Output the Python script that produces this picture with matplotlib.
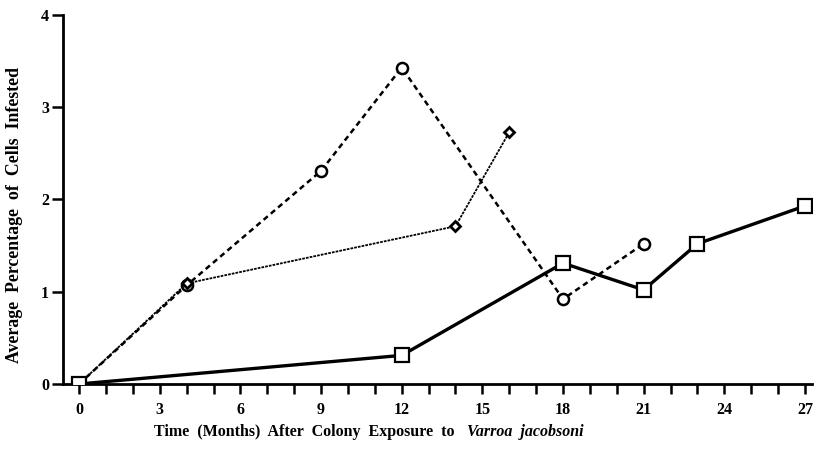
import matplotlib.pyplot as plt

plt.rcParams["font.family"] = ["Liberation Serif", "DejaVu Serif"]

# 数据
sq_months = [0, 12, 18, 21, 23, 27]
sq_values = [0, 0.31, 1.31, 1.02, 1.52, 1.93]

circ_months = [0, 4, 9, 12, 18, 21]
circ_values = [0, 1.07, 2.31, 3.43, 0.92, 1.52]

dia_months = [0, 4, 14, 16]
dia_values = [0, 1.09, 1.71, 2.73]

xtick_pos = list(range(0, 28))
xtick_labels = [str(m) if m % 3 == 0 else "" for m in xtick_pos]
ytick_pos = [0, 1, 2, 3, 4]

fig = plt.figure(figsize=(8.19, 4.49), dpi=100)
ax = fig.add_axes([0.0769, 0.1448, 0.9145, 0.8218])

# 细线（菱形）
ax.plot(dia_months, dia_values, color="black", lw=1.3, ls=(0, (1.5, 0.6)),
        marker="D", ms=5.5, mfc="white", mec="black", mew=2, zorder=3)
# 虚线（圆形）
ax.plot(circ_months, circ_values, color="black", lw=1.8, ls=(0, (2.2, 1.6)),
        marker="o", ms=8, mfc="white", mec="black", mew=1.8, zorder=2)
# 粗实线（方形）
ax.plot(sq_months, sq_values, color="black", lw=2.4,
        marker="s", ms=9.5, mfc="white", mec="black", mew=1.6, zorder=4)

ax.set_xlim(-0.6, 27.26)
ax.set_ylim(0, 4)
ax.set_xticks(xtick_pos)
ax.set_xticklabels(xtick_labels, fontsize=11.5, fontweight="bold")
ax.set_yticks(ytick_pos)
ax.set_yticklabels([str(v) for v in ytick_pos], fontsize=11.5, fontweight="bold")
ax.tick_params(axis="x", direction="out", length=7, width=1.8, pad=6)
ax.tick_params(axis="y", direction="out", length=8, width=1.8, pad=2)

for side in ["top", "right"]:
    ax.spines[side].set_visible(False)
for side in ["left", "bottom"]:
    ax.spines[side].set_linewidth(2)
ax.spines["bottom"].set_bounds(-0.6, 27.26)

# 坐标轴标题
fig.text(15 / 819, 1 - 215 / 449, "Average  Percentage  of  Cells  Infested",
         rotation=90, ha="center", va="center", fontsize=12.8, fontweight="bold")

fig.text(454 / 819, 1 - 432 / 449, "Time  (Months)  After  Colony  Exposure  to",
         ha="right", va="center", fontsize=11.5, fontweight="bold")
fig.text(467 / 819, 1 - 432 / 449, "Varroa  jacobsoni", ha="left", va="center",
         fontsize=11.5, fontweight="bold", style="italic")

plt.savefig("out.png", dpi=100)
